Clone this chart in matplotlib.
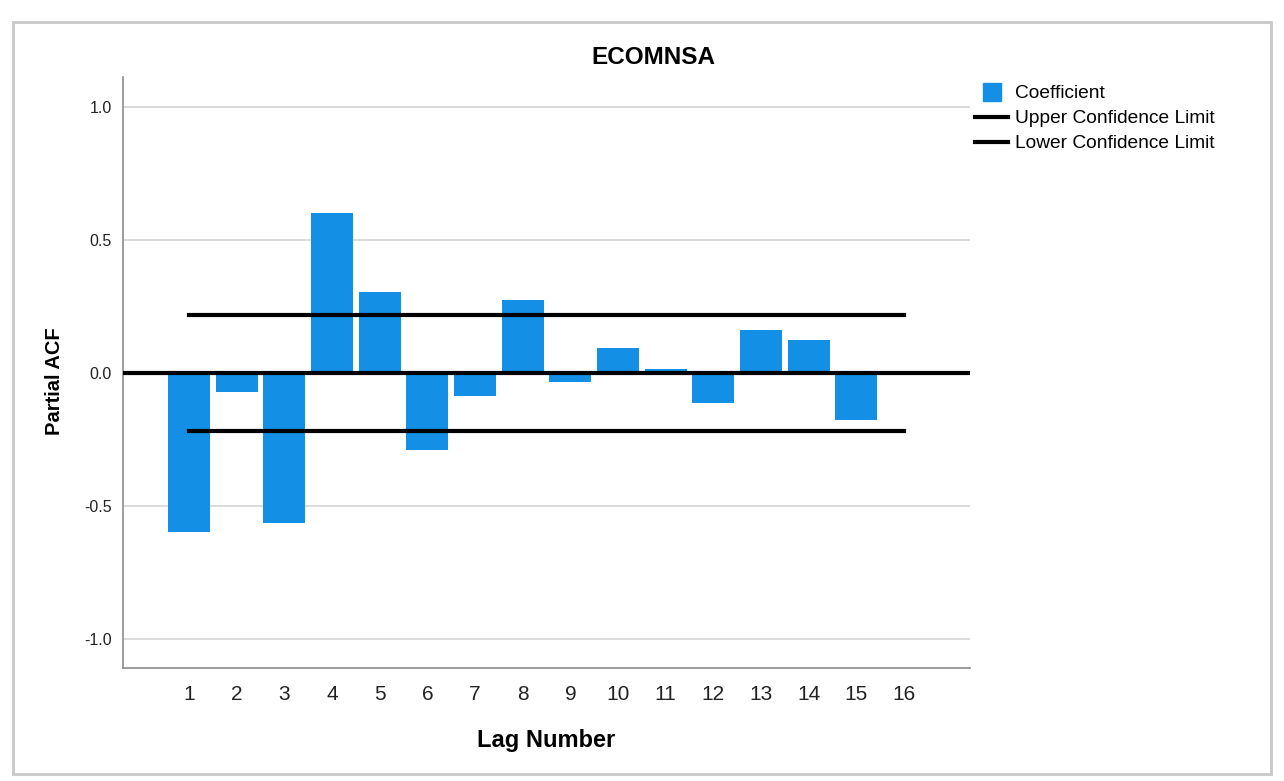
import matplotlib.pyplot as plt
from matplotlib.patches import Rectangle
from matplotlib.lines import Line2D

plt.rcParams['font.family'] = ['Liberation Sans', 'DejaVu Sans']

lags = list(range(1, 17))
pacf = [-0.598, -0.071, -0.564, 0.602, 0.305, -0.289, -0.086, 0.274,
        -0.034, 0.094, 0.015, -0.113, 0.162, 0.124, -0.177, 0.0]
upper_limit = 0.218
lower_limit = -0.218

bar_color = '#138FE6'
grid_color = '#D4D4D4'
axis_color = '#8C8C8C'

fig = plt.figure(figsize=(12.84, 7.81), dpi=100)
ax = fig.add_axes([0.0958, 0.1447, 0.6597, 0.7567])

# outer frame
fig.patches.append(Rectangle((13 / 1284, 1 - 774 / 781), 1258 / 1284, 752 / 781,
                             transform=fig.transFigure, fill=False,
                             edgecolor='#C8C8C8', linewidth=2))

ax.set_xlim(-0.385, 17.385)
ax.set_ylim(-1.109, 1.113)

for y in [-1.0, -0.5, 0.5, 1.0]:
    ax.axhline(y, color=grid_color, linewidth=1.2, zorder=0)

ax.bar(lags, pacf, width=0.88, color=bar_color, zorder=2)
ax.axhline(0, color='black', linewidth=3, zorder=3)
ax.plot([lags[0], lags[-1]], [upper_limit, upper_limit], color='black', linewidth=3, zorder=3)
ax.plot([lags[0], lags[-1]], [lower_limit, lower_limit], color='black', linewidth=3, zorder=3)

ax.set_xticks(lags)
ax.set_xticklabels([str(l) for l in lags], fontsize=15, color='#222222')
ax.set_yticks([-1.0, -0.5, 0.0, 0.5, 1.0])
ax.set_yticklabels(['-1.0', '-0.5', '0.0', '0.5', '1.0'], fontsize=11.5, color='#222222')
ax.tick_params(axis='y', length=0, pad=8)
ax.tick_params(axis='x', length=0, pad=12)

for s in ['top', 'right']:
    ax.spines[s].set_visible(False)
for s in ['left', 'bottom']:
    ax.spines[s].set_color(axis_color)
    ax.spines[s].set_linewidth(1.2)

fig.text(653 / 1284, 1 - 58 / 781, 'ECOMNSA', ha='center', va='center',
         fontsize=17.5, fontweight='bold')
fig.text(546.5 / 1284, 1 - 741 / 781, 'Lag Number', ha='center', va='center',
         fontsize=17, fontweight='bold')
fig.text(54 / 1284, 1 - 381.5 / 781, 'Partial ACF', ha='center', va='center',
         fontsize=14.5, fontweight='bold', rotation=90)

handles = [Line2D([0], [0], linestyle='none', marker='s', markersize=12.5,
                  markerfacecolor=bar_color, markeredgecolor=bar_color, label='Coefficient'),
           Line2D([0], [0], color='black', linewidth=3, label='Upper Confidence Limit'),
           Line2D([0], [0], color='black', linewidth=3, label='Lower Confidence Limit')]
fig.legend(handles=handles, loc='upper left', bbox_to_anchor=(975 / 1284, 1 - 85 / 781),
           frameon=False, fontsize=13.75, handlelength=1.75, handletextpad=0.33,
           labelspacing=0.4, borderaxespad=0, borderpad=0)

fig.savefig('out.png', dpi=100)
